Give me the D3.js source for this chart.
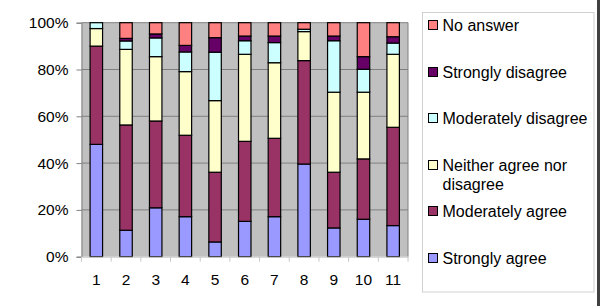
<!DOCTYPE html>
<html><head><meta charset="utf-8">
<script src="https://cdn.jsdelivr.net/npm/d3@7"></script>
<style>body{margin:0;background:#fff}svg{display:block}text{font-family:"Liberation Sans",Arial,sans-serif}</style>
</head><body><svg id="c" width="600" height="306"></svg>
<script>
const categories = ["1","2","3","4","5","6","7","8","9","10","11"];
const seriesNames = ["Strongly agree","Moderately agree","Neither agree nor disagree","Moderately disagree","Strongly disagree","No answer"];
const stronglyAgree      = [48, 11.3, 20.9, 17.1, 6.3, 15.1, 17.1, 39.6, 12.3, 16, 13.3];
const moderatelyAgree    = [42, 45, 37.1, 34.8, 29.8, 34.2, 33.5, 44.2, 23.8, 25.8, 42];
const neither            = [7.5, 32.3, 27.5, 27.2, 30.6, 37.2, 32.3, 12.4, 34.2, 28.5, 31.2];
const moderatelyDisagree = [2.5, 3.6, 8, 8.4, 20.7, 5.8, 8.6, 1, 22, 9.8, 4.8];
const stronglyDisagree   = [0, 1.1, 1.7, 2.8, 6.2, 2, 2.8, 0, 2, 5.4, 2.7];
const noAnswer           = [0, 6.7, 4.8, 9.7, 6.4, 5.7, 5.7, 2.8, 5.7, 14.5, 6];
const yTicks = [0, 20, 40, 60, 80, 100];
const colors = ["#9999FF","#993366","#FFFFCC","#CCFFFF","#660066","#FF8080"];

const allSeries = [stronglyAgree, moderatelyAgree, neither, moderatelyDisagree, stronglyDisagree, noAnswer];
const keys = seriesNames;
const rows = categories.map((c,i)=>{const r={cat:c}; keys.forEach((k,j)=>r[k]=allSeries[j][i]); return r;});
const stack = d3.stack().keys(keys).offset(d3.stackOffsetExpand)(rows);

const svg = d3.select("#c");
const L=81.5, R=408, T=22.7, B=256.7;
const x = d3.scaleBand().domain(categories).range([L,R]).paddingInner(0.58).paddingOuter(0.29);
const y = d3.scaleLinear().domain([0,1]).range([B,T]);

svg.append("rect").attr("x",L).attr("y",T).attr("width",R-L).attr("height",B-T).attr("fill","#C0C0C0");
svg.append("g").selectAll("line").data(yTicks.slice(1)).join("line")
  .attr("x1",L).attr("x2",R).attr("y1",d=>y(d/100)).attr("y2",d=>y(d/100))
  .attr("stroke","#808080").attr("stroke-width",1);
svg.append("line").attr("x1",R).attr("x2",R).attr("y1",T).attr("y2",B).attr("stroke","#808080");

stack.forEach((s,j)=>{
  svg.append("g").selectAll("rect").data(s.filter(d=>d[1]-d[0]>0)).join("rect")
    .attr("x",d=>x(d.data.cat)).attr("width",x.bandwidth())
    .attr("y",d=>y(d[1])).attr("height",d=>y(d[0])-y(d[1]))
    .attr("fill",colors[j]).attr("stroke","#000").attr("stroke-width",1.2);
});

// y axis
const ya = svg.append("g").attr("transform",`translate(${L},0)`)
  .call(d3.axisLeft(y).tickValues(yTicks.map(d=>d/100)).tickFormat(d=>Math.round(d*100)+"%").tickSize(5).tickPadding(8));
ya.select(".domain").attr("stroke","#808080");
ya.selectAll(".tick line").attr("stroke","#808080");
ya.selectAll("text").attr("font-size","15.5px").attr("fill","#000").attr("font-family","Liberation Sans, Arial, sans-serif");

// x axis
const xa = svg.append("g").attr("transform",`translate(0,${B})`)
  .call(d3.axisBottom(x).tickSize(0).tickPadding(17));
xa.select(".domain").attr("stroke","#c8c8c8");
xa.selectAll("text").attr("font-size","15.5px").attr("fill","#000").attr("font-family","Liberation Sans, Arial, sans-serif");
const step = x.step();
svg.append("g").selectAll("line").data(d3.range(categories.length+1)).join("line")
  .attr("x1",d=>L+d*step).attr("x2",d=>L+d*step).attr("y1",B).attr("y2",B+5)
  .attr("stroke","#c8c8c8");

// legend
svg.append("rect").attr("x",422.5).attr("y",12.5).attr("width",171.5).attr("height",279.5)
  .attr("fill","#fff").attr("stroke","#d0d0d0");
const legendLines = [
  {i:5, lines:["No answer"], cy:25},
  {i:4, lines:["Strongly disagree"], cy:72},
  {i:3, lines:["Moderately disagree"], cy:118},
  {i:2, lines:["Neither agree nor","disagree"], cy:165},
  {i:1, lines:["Moderately agree"], cy:211},
  {i:0, lines:["Strongly agree"], cy:258}
];
const lg = svg.append("g");
legendLines.forEach(e=>{
  lg.append("rect").attr("x",428.5).attr("y",e.cy-4.5).attr("width",9).attr("height",9)
    .attr("fill",colors[e.i]).attr("stroke","#000").attr("stroke-width",1);
  e.lines.forEach((t,k)=>{
    lg.append("text").attr("x",442.5).attr("y",e.cy+k*19).attr("dy","0.36em")
      .attr("font-size","16px").attr("fill","#000").text(t);
  });
});

svg.append("rect").attr("x",597).attr("y",0).attr("width",3).attr("height",306).attr("fill","#404040");
</script></body></html>
